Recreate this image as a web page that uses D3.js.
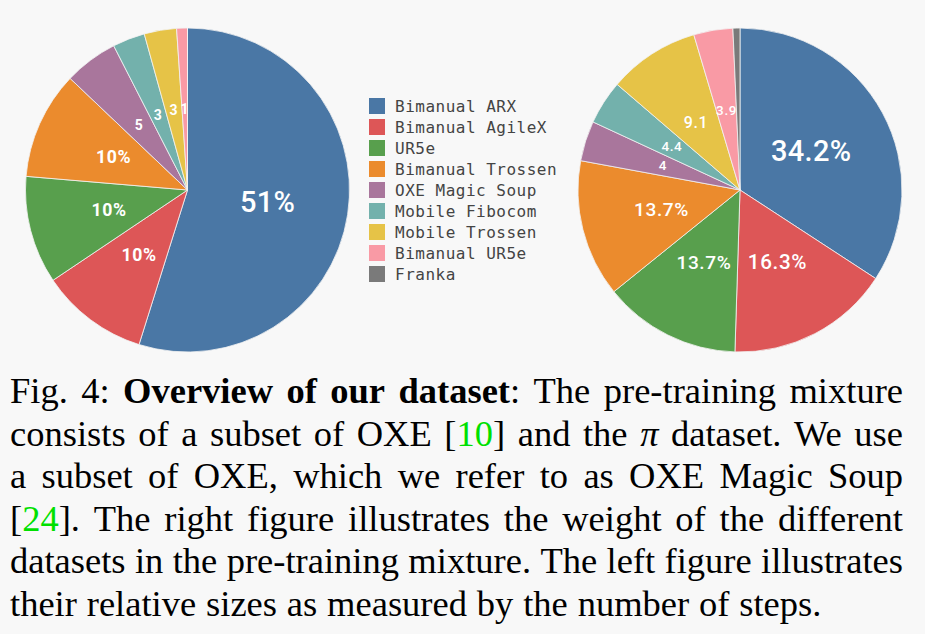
<!DOCTYPE html>
<html>
<head>
<meta charset="utf-8">
<script src="https://cdn.jsdelivr.net/npm/d3@7"></script>
<style>
  html, body { margin: 0; padding: 0; background: #f8f8f8; }
  svg { display: block; }
</style>
</head>
<body>
<svg id="chart" width="925" height="634"></svg>
<script>
// ---- data ----
const categories = ["Bimanual ARX", "Bimanual AgileX", "UR5e", "Bimanual Trossen",
  "OXE Magic Soup", "Mobile Fibocom", "Mobile Trossen", "Bimanual UR5e", "Franka"];
const colors = ["#4a77a5", "#dd5657", "#589f4d", "#eb8b2d", "#a9769c",
  "#73b1ac", "#e6c347", "#f99aa5", "#7a7a7a"];
// left pie: relative sizes (number of steps)
const leftValues = [51, 10, 10, 10, 5, 3, 3, 1, 0];
// right pie: weight in the pre-training mixture
const rightValues = [34.2, 16.3, 13.7, 13.7, 4, 4.4, 9.1, 3.9, 0.7];

// caption lines: each word = list of [text, style]  (n normal, b bold, g green link, i italic)
const captionLines = [
  [[["Fig.","n"]],[["4:","n"]],[["Overview","b"]],[["of","b"]],[["our","b"]],[["dataset","b"],[":","n"]],[["The","n"]],[["pre-training","n"]],[["mixture","n"]]],
  [[["consists","n"]],[["of","n"]],[["a","n"]],[["subset","n"]],[["of","n"]],[["OXE","n"]],[["[","n"],["10","g"],["]","n"]],[["and","n"]],[["the","n"]],[["π","i"]],[["dataset.","n"]],[["We","n"]],[["use","n"]]],
  [[["a","n"]],[["subset","n"]],[["of","n"]],[["OXE,","n"]],[["which","n"]],[["we","n"]],[["refer","n"]],[["to","n"]],[["as","n"]],[["OXE","n"]],[["Magic","n"]],[["Soup","n"]]],
  [[["[","n"],["24","g"],["].","n"]],[["The","n"]],[["right","n"]],[["figure","n"]],[["illustrates","n"]],[["the","n"]],[["weight","n"]],[["of","n"]],[["the","n"]],[["different","n"]]],
  [[["datasets","n"]],[["in","n"]],[["the","n"]],[["pre-training","n"]],[["mixture.","n"]],[["The","n"]],[["left","n"]],[["figure","n"]],[["illustrates","n"]]],
  [[["their","n"]],[["relative","n"]],[["sizes","n"]],[["as","n"]],[["measured","n"]],[["by","n"]],[["the","n"]],[["number","n"]],[["of","n"]],[["steps.","n"]]]
];

// ---- drawing ----
const svg = d3.select("#chart");
svg.append("rect").attr("width", 925).attr("height", 634).attr("fill", "#f8f8f8");

const R = 162;
const color = d3.scaleOrdinal().domain(categories).range(colors);
const pie = d3.pie().sort(null).value(d => d.value);
const arc = d3.arc().innerRadius(0).outerRadius(R);
const sizeScale = v => Math.max(13.5, Math.min(29, 2.1 + 4.6 * Math.sqrt(v)));

function drawPie(cx, cy, values, opts) {
  const data = categories.map((c, i) => ({ cat: c, value: values[i] }));
  const total = d3.sum(values);
  const g = svg.append("g").attr("transform", `translate(${cx},${cy})`);
  const arcs = pie(data);
  g.selectAll("path").data(arcs).enter().append("path")
    .attr("d", arc)
    .attr("fill", d => color(d.data.cat))
    .attr("stroke", "#f2f2f2")
    .attr("stroke-width", 0.8);
  g.selectAll("text").data(arcs.filter(d => d.data.value >= 1)).enter().append("text")
    .attr("transform", d => `translate(${arc.centroid(d)})`)
    .attr("text-anchor", "middle")
    .attr("dominant-baseline", "central")
    .attr("fill", "#ffffff")
    .attr("font-family", "Roboto, 'DejaVu Sans', sans-serif")
    .attr("font-weight", d => (opts.bold && d.data.value / total < 0.3) ? 700 : 500)
    .attr("font-size", d => sizeScale(100 * d.data.value / total) + (opts.bold && d.data.value / total < 0.3 ? 0.5 : 0))
    .attr("letter-spacing", d => (100 * d.data.value / total) < 30 ? 0.6 : 0.3)
    .text(d => d.data.value >= 10 ? `${d.data.value}%` : `${d.data.value}`);
}

drawPie(187.5, 190, leftValues, { bold: true });
drawPie(740, 190, rightValues, { bold: false });

// legend
const lg = svg.append("g");
const rowY = d3.scalePoint().domain(categories).range([106, 274]);
const items = lg.selectAll("g").data(categories).enter().append("g")
  .attr("transform", d => `translate(369,${rowY(d)})`);
items.append("rect").attr("x", 0).attr("y", -8).attr("width", 16).attr("height", 16)
  .attr("fill", d => color(d));
items.append("text").attr("x", 26).attr("y", 0)
  .attr("dominant-baseline", "central")
  .attr("font-family", "'DejaVu Sans Mono', 'Liberation Mono', monospace")
  .attr("font-size", 16).attr("letter-spacing", 0.5)
  .attr("fill", "#444444")
  .text(d => d);

// caption (justified)
const capFont = 36.5;
const baseline = d3.scaleLinear().domain([0, 5]).range([403, 615.5]);
const left = 10, right = 903;
captionLines.forEach((words, li) => {
  const y = baseline(li);
  const lineG = svg.append("g");
  const nodes = words.map(w => {
    const t = lineG.append("text").attr("y", y)
      .attr("font-family", "'Liberation Serif', 'Times New Roman', serif")
      .attr("font-size", capFont).attr("fill", "#000");
    w.forEach(([txt, st]) => {
      t.append("tspan").text(txt)
        .attr("font-weight", st === "b" ? "bold" : null)
        .attr("font-style", st === "i" ? "italic" : null)
        .attr("fill", st === "g" ? "#00e000" : null);
    });
    return t;
  });
  const widths = nodes.map(t => t.node().getComputedTextLength());
  const sumW = d3.sum(widths);
  const isLast = li === captionLines.length - 1;
  let gap = isLast ? capFont * 0.27 : (right - left - sumW) / (words.length - 1);
  let scale = 1;
  if (gap < capFont * 0.2) {
    gap = capFont * 0.2;
    scale = (right - left) / (sumW + gap * (words.length - 1));
  }
  let x = 0;
  nodes.forEach((t, i) => { t.attr("x", x); x += widths[i] + gap; });
  lineG.attr("transform", `translate(${left},0) scale(${scale},1)`);
});
</script>
</body>
</html>
